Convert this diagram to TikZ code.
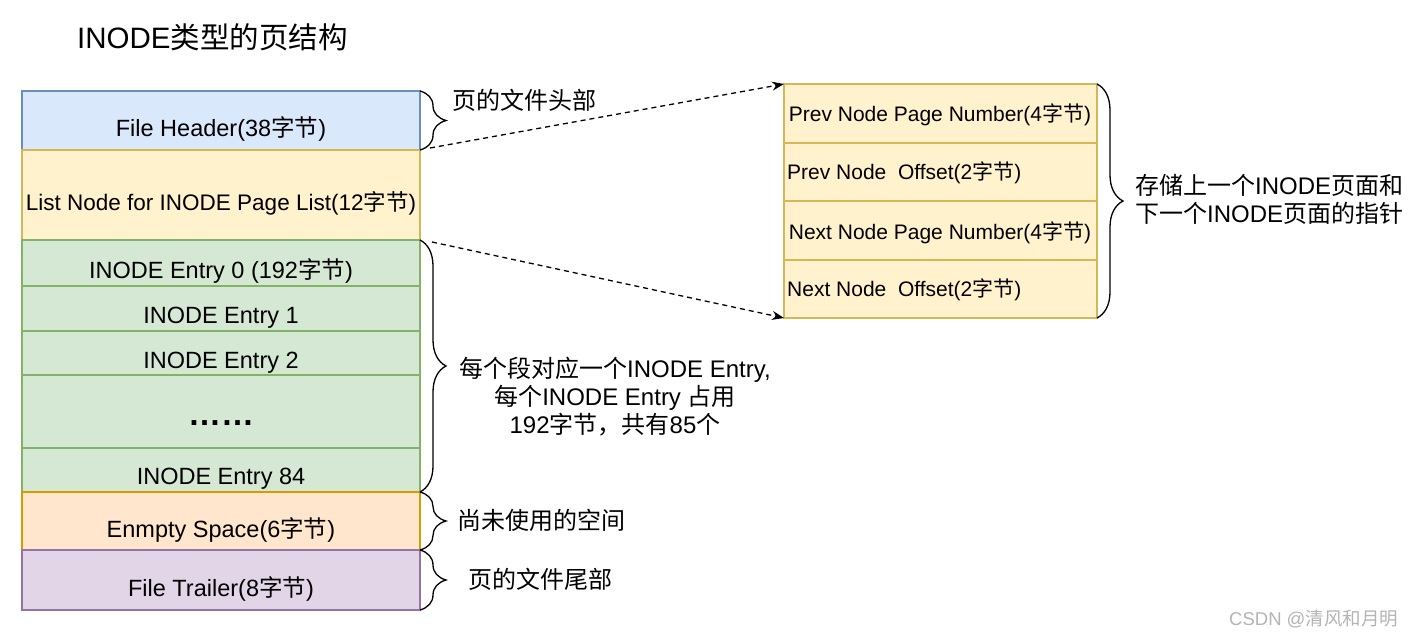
\documentclass[tikz,border=0pt]{standalone}
\usepackage{fontspec}
\setmainfont{Liberation Sans}
\newfontfamily\cjk{Noto Sans CJK SC}
\newcommand\zh[1]{{\cjk #1}}
\usetikzlibrary{arrows.meta,decorations.pathreplacing}
\definecolor{bluef}{HTML}{DAE8FC}\definecolor{blues}{HTML}{6C8EBF}
\definecolor{yelf}{HTML}{FFF2CC}\definecolor{yels}{HTML}{D6B656}
\definecolor{grnf}{HTML}{D5E8D4}\definecolor{grns}{HTML}{82B366}
\definecolor{orgf}{HTML}{FFE6CC}\definecolor{orgs}{HTML}{D79B00}
\definecolor{purf}{HTML}{E1D5E7}\definecolor{purs}{HTML}{9673A6}
\definecolor{wmark}{HTML}{B4B4B4}
\tikzset{
  rowbox/.style={rectangle, inner sep=0pt, outer sep=0pt, line width=1.2pt, minimum width=398pt},
  rbox/.style={rectangle, inner sep=0pt, outer sep=0pt, line width=1.2pt, minimum width=313pt, fill=yelf, draw=yels},
  ltxt/.style={anchor=base, inner sep=0pt, font=\fontsize{23.5}{28}\selectfont},
  rtxt/.style={anchor=base, inner sep=0pt, font=\fontsize{21}{25}\selectfont},
  lbl/.style={inner sep=0pt, font=\fontsize{24}{28}\selectfont},
  bracestyle/.style={decorate, decoration={brace, amplitude=26pt}, line width=1.3pt},
  dasharrow/.style={dash pattern=on 5pt off 4pt, line width=1.3pt, -{Stealth[length=12pt,width=9pt]}},
}
\begin{document}
\begin{tikzpicture}[x=1pt,y=-1pt]
\useasboundingbox[fill=white] (0,0) rectangle (1414,636);
% title
\node[anchor=base west, inner sep=0pt, font=\fontsize{29.5}{34}\selectfont] (title) at (77,49) {INODE\zh{类型的页结构}};
% left column
\node[rowbox, fill=bluef, draw=blues, minimum height=59pt] (fh) at (221,120.5) {};
\node[rowbox, fill=yelf, draw=yels, minimum height=90pt] (ln) at (221,195) {};
\node[rowbox, fill=grnf, draw=grns, minimum height=46pt] (e0) at (221,263) {};
\node[rowbox, fill=grnf, draw=grns, minimum height=45pt] (e1) at (221,308.5) {};
\node[rowbox, fill=grnf, draw=grns, minimum height=44pt] (e2) at (221,353) {};
\node[rowbox, fill=grnf, draw=grns, minimum height=73pt] (ed) at (221,411.5) {};
\node[rowbox, fill=grnf, draw=grns, minimum height=44pt] (e84) at (221,470) {};
\node[rowbox, fill=orgf, draw=orgs, minimum height=58pt] (es) at (221,521) {};
\node[rowbox, fill=purf, draw=purs, minimum height=60pt] (ft) at (221,580) {};
\node[ltxt] (fht) at (221,137) {File Header(38\zh{字节})};
\node[ltxt, font=\fontsize{22.5}{27}\selectfont] (lnt) at (221,211) {List Node for INODE Page List(12\zh{字节})};
\node[ltxt] (e0t) at (221,278.5) {INODE Entry 0 (192\zh{字节})};
\node[ltxt] (e1t) at (221,323.5) {INODE Entry 1};
\node[ltxt] (e2t) at (221,368) {INODE Entry 2};
\node[anchor=base, inner sep=0pt, font=\fontsize{33}{36}\selectfont\bfseries] (edt) at (221,425) {……};
\node[ltxt] (e84t) at (221,484.5) {INODE Entry 84};
\node[ltxt] (est) at (221,537) {Enmpty Space(6\zh{字节})};
\node[ltxt] (ftt) at (221,596.5) {File Trailer(8\zh{字节})};
% right column
\node[rbox, minimum height=59pt] (r1) at (940.5,113.5) {};
\node[rbox, minimum height=58pt] (r2) at (940.5,172) {};
\node[rbox, minimum height=59pt] (r3) at (940.5,230.5) {};
\node[rbox, minimum height=58pt] (r4) at (940.5,289) {};
\node[rtxt] (r1t) at (940,122) {Prev Node Page Number(4\zh{字节})};
\node[rtxt, anchor=base west] (r2t) at (787,180) {Prev Node\ \ Offset(2\zh{字节})};
\node[rtxt] (r3t) at (940,240) {Next Node Page Number(4\zh{字节})};
\node[rtxt, anchor=base west] (r4t) at (787,297) {Next Node\ \ Offset(2\zh{字节})};
% braces
\draw[bracestyle] (fh.north east) -- (fh.south east);
\draw[bracestyle] (e0.north east) -- (e84.south east);
\draw[bracestyle] (es.north east) -- (es.south east);
\draw[bracestyle] (ft.north east) -- (ft.south east);
\draw[bracestyle] (r1.north east) -- (r4.south east);
% brace labels
\node[lbl, anchor=base west] (l1) at (452,110) {\zh{页的文件头部}};
\node[lbl, align=center] (l2) at (615,397) {\zh{每个段对应一个}INODE Entry,\\\zh{每个}INODE Entry \zh{占用}\\192\zh{字节，共有}85\zh{个}};
\node[lbl, anchor=base west] (l3) at (457,529.5) {\zh{尚未使用的空间}};
\node[lbl, anchor=base west] (l4) at (468,588) {\zh{页的文件尾部}};
\node[lbl, align=left, anchor=west] (l5) at (1135,199) {\zh{存储上一个}INODE\zh{页面和}\\\zh{下一个}INODE\zh{页面的指针}};
% dashed arrows
\coordinate (a1) at (430,148);
\coordinate (a2) at (432,242);
\draw[dasharrow] (a1) -- (r1.north west);
\draw[dasharrow] (a2) -- (r4.south west);
% watermark
\node[anchor=base west, inner sep=0pt, text=wmark, font=\fontsize{18.5}{22}\selectfont] (wm) at (1229,625) {CSDN @\zh{清风和月明}};
\end{tikzpicture}
\end{document}
